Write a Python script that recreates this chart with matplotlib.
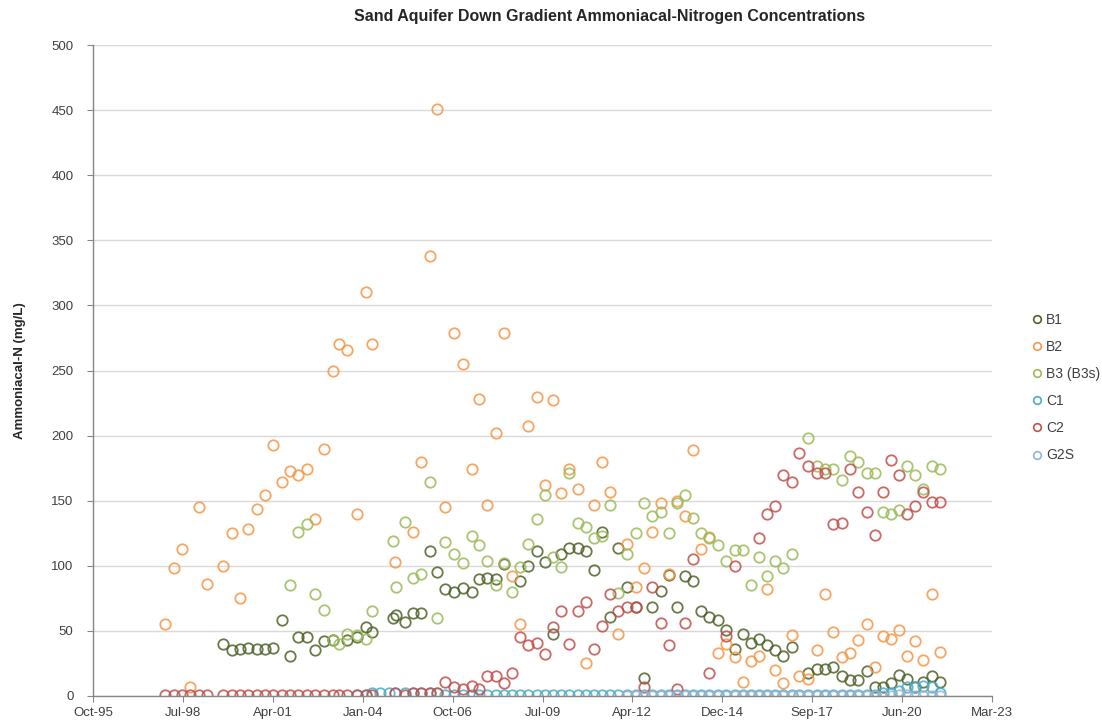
import matplotlib
matplotlib.use("Agg")
import matplotlib.pyplot as plt
import matplotlib.dates as mdates
from datetime import datetime, timedelta

plt.rcParams['font.family'] = ['Liberation Sans', 'DejaVu Sans']

# ---------------- data (decimal years, mg/L) ----------------
b1_dates = [1999.78, 2000.04, 2000.30, 2000.54, 2000.81, 2001.06, 2001.30, 2001.58, 2001.82, 2002.06,
            2002.34, 2002.58, 2002.87, 2003.13, 2003.55, 2003.87, 2004.13, 2004.32, 2004.95, 2005.05,
            2005.31, 2005.56, 2005.82, 2006.07, 2006.30, 2006.55, 2006.82, 2007.09, 2007.35, 2007.59,
            2007.83, 2008.09, 2008.34, 2008.82, 2009.07, 2009.34, 2009.58, 2009.83, 2010.07, 2010.31,
            2010.59, 2010.83, 2011.08, 2011.32, 2011.56, 2011.82, 2012.08, 2012.35, 2012.60, 2012.86,
            2013.12, 2013.36, 2013.60, 2013.85, 2014.09, 2014.35, 2014.59, 2014.85, 2015.11, 2015.38,
            2015.63, 2015.86, 2016.10, 2016.34, 2016.60, 2016.85, 2017.10, 2017.59, 2017.87, 2018.12,
            2018.37, 2018.63, 2018.87, 2019.11, 2019.39, 2019.63, 2019.88, 2020.12, 2020.36, 2020.61,
            2020.87, 2021.11, 2021.37, 2021.63]
b1_vals = [40, 35, 36, 37, 36, 36, 37, 58, 31, 45,
           45, 35, 42, 43, 43, 45, 53, 49, 60, 62,
           57, 64, 64, 111, 95, 82, 80, 83, 80, 90,
           91, 90, 101, 88, 100, 111, 103, 48, 109, 114,
           114, 111, 97, 126, 61, 114, 84, 68, 14, 68,
           81, 93, 68, 92, 88, 65, 61, 58, 51, 36,
           48, 41, 44, 39, 35, 31, 38, 18, 21, 21,
           22, 15, 12, 12, 19, 7, 7, 10, 16, 13,
           7, 11, 15, 11]

b2_dates = [1998.01, 1998.29, 1998.54, 1998.78, 1999.05, 1999.29, 1999.78, 2000.04, 2000.30, 2000.54,
            2000.81, 2001.06, 2001.30, 2001.58, 2001.82, 2002.06, 2002.34, 2002.58, 2002.87, 2003.13,
            2003.31, 2003.55, 2003.87, 2004.13, 2004.32, 2005.02, 2005.56, 2005.82, 2006.07, 2006.30,
            2006.55, 2006.82, 2007.09, 2007.35, 2007.59, 2007.83, 2008.09, 2008.34, 2008.58, 2008.82,
            2009.07, 2009.34, 2009.58, 2009.83, 2010.07, 2010.31, 2010.59, 2010.83, 2011.08, 2011.32,
            2011.56, 2011.82, 2012.08, 2012.35, 2012.60, 2012.86, 2013.12, 2013.36, 2013.60, 2013.85,
            2014.09, 2014.35, 2014.59, 2014.85, 2015.11, 2015.38, 2015.63, 2015.86, 2016.10, 2016.34,
            2016.60, 2016.85, 2017.10, 2017.33, 2017.59, 2017.87, 2018.12, 2018.37, 2018.63, 2018.87,
            2019.11, 2019.39, 2019.63, 2019.88, 2020.12, 2020.36, 2020.61, 2020.87, 2021.11, 2021.37,
            2021.63]
b2_vals = [55, 98, 113, 7, 145, 86, 100, 125, 75, 128,
           144, 154, 193, 164, 173, 170, 174, 136, 190, 250,
           270, 266, 140, 310, 270, 103, 126, 180, 338, 451,
           145, 279, 255, 174, 228, 147, 202, 279, 92, 55,
           207, 230, 162, 227, 156, 174, 159, 25, 147, 180,
           157, 48, 117, 84, 98, 126, 148, 94, 150, 138,
           189, 113, 122, 33, 40, 30, 11, 27, 31, 82,
           20, 10, 47, 15, 13, 35, 78, 49, 30, 33,
           43, 55, 22, 46, 44, 51, 31, 42, 28, 78,
           34]

b3_dates = [2001.82, 2002.06, 2002.34, 2002.58, 2002.87, 2003.13, 2003.31, 2003.55, 2003.87, 2004.13,
            2004.32, 2004.95, 2005.05, 2005.31, 2005.56, 2005.82, 2006.07, 2006.30, 2006.55, 2006.82,
            2007.09, 2007.35, 2007.59, 2007.83, 2008.09, 2008.34, 2008.58, 2008.82, 2009.07, 2009.34,
            2009.58, 2009.83, 2010.07, 2010.31, 2010.59, 2010.83, 2011.08, 2011.32, 2011.56, 2011.82,
            2012.08, 2012.35, 2012.60, 2012.86, 2013.12, 2013.36, 2013.60, 2013.85, 2014.09, 2014.35,
            2014.59, 2014.85, 2015.11, 2015.38, 2015.63, 2015.86, 2016.10, 2016.34, 2016.60, 2016.85,
            2017.10, 2017.59, 2017.87, 2018.12, 2018.37, 2018.63, 2018.87, 2019.11, 2019.39, 2019.63,
            2019.88, 2020.12, 2020.36, 2020.61, 2020.87, 2021.11, 2021.37, 2021.63]
b3_vals = [85, 126, 132, 78, 66, 43, 40, 48, 47, 44,
           65, 119, 84, 134, 91, 94, 164, 60, 118, 109,
           102, 123, 116, 104, 85, 102, 80, 99, 117, 136,
           154, 107, 99, 171, 133, 130, 121, 123, 147, 79,
           109, 125, 148, 138, 141, 125, 148, 154, 137, 125,
           121, 116, 104, 112, 112, 85, 107, 92, 104, 98,
           109, 198, 177, 174, 174, 166, 184, 180, 171, 171,
           141, 140, 143, 177, 170, 159, 177, 174]

c1_dates = [2003.87, 2004.13, 2004.32, 2004.57, 2004.83, 2005.02, 2005.31, 2005.56, 2005.82, 2006.07,
            2006.30, 2006.55, 2006.82, 2007.09, 2007.35, 2007.59, 2007.83, 2008.09, 2008.34, 2008.58,
            2008.82, 2009.07, 2009.34, 2009.58, 2009.83, 2010.07, 2010.31, 2010.59, 2010.83, 2011.08,
            2011.32, 2011.56, 2011.82, 2012.08, 2012.35, 2012.60, 2012.86, 2013.12, 2013.36, 2013.60,
            2013.85, 2014.09, 2014.35, 2014.59, 2014.85, 2015.11, 2015.38, 2015.63, 2015.86, 2016.10,
            2016.34, 2016.60, 2016.85, 2017.10, 2017.33, 2017.59, 2017.87, 2018.12, 2018.37, 2018.63,
            2018.87, 2019.11, 2019.39, 2019.63, 2019.88, 2020.12, 2020.36, 2020.61, 2020.87, 2021.11,
            2021.37, 2021.63]
c1_vals = [1, 1, 2, 2, 2, 2, 2, 2, 2, 2,
           2, 1, 1, 1, 1, 1, 1, 1, 1, 1,
           1, 1, 1, 1, 1, 1, 1, 1, 1, 1,
           1, 1, 1, 1, 1, 1, 1, 1, 1, 1,
           1, 1, 1, 1, 1, 1, 1, 1, 1, 1,
           1, 1, 1, 1, 1, 1, 1, 1, 1, 1,
           1, 1, 1, 1, 2, 2, 4, 7, 7, 8,
           7, 2]

c2_dates = [1998.01, 1998.29, 1998.54, 1998.78, 1999.05, 1999.29, 1999.78, 2000.04, 2000.30, 2000.54,
            2000.81, 2001.06, 2001.30, 2001.58, 2001.82, 2002.06, 2002.34, 2002.58, 2002.87, 2003.13,
            2003.31, 2003.55, 2003.87, 2004.13, 2004.32, 2005.02, 2005.31, 2005.56, 2005.82, 2006.07,
            2006.30, 2006.55, 2006.82, 2007.09, 2007.35, 2007.59, 2007.83, 2008.09, 2008.34, 2008.58,
            2008.82, 2009.07, 2009.34, 2009.58, 2009.83, 2010.07, 2010.31, 2010.59, 2010.83, 2011.08,
            2011.32, 2011.56, 2011.82, 2012.08, 2012.35, 2012.60, 2012.86, 2013.12, 2013.36, 2013.60,
            2013.85, 2014.09, 2014.59, 2015.11, 2015.38, 2016.10, 2016.34, 2016.60, 2016.85, 2017.10,
            2017.33, 2017.59, 2017.87, 2018.12, 2018.37, 2018.63, 2018.87, 2019.11, 2019.39, 2019.63,
            2019.88, 2020.12, 2020.36, 2020.61, 2020.87, 2021.11, 2021.37, 2021.63]
c2_vals = [0.5, 0.5, 0.5, 0.5, 0.5, 0.5, 0.5, 0.5, 0.5, 0.5,
           0.5, 0.5, 0.5, 0.5, 0.5, 0.5, 0.5, 0.5, 0.5, 0.5,
           0.5, 0.5, 0.5, 0.5, 0.5, 2, 1, 2, 2, 2,
           2, 11, 7, 5, 8, 5, 15, 15, 10, 18,
           45, 39, 41, 32, 53, 65, 40, 65, 72, 36,
           54, 78, 65, 68, 68, 7, 84, 56, 39, 5,
           56, 105, 18, 46, 100, 121, 140, 146, 170, 164,
           187, 177, 171, 171, 132, 133, 174, 157, 141, 124,
           157, 181, 170, 140, 146, 157, 149, 149]

g2s_dates = [2012.08, 2012.35, 2012.60, 2012.86, 2013.12, 2013.36, 2013.60, 2013.85, 2014.09, 2014.35,
             2014.59, 2014.85, 2015.11, 2015.38, 2015.63, 2015.86, 2016.10, 2016.34, 2016.60, 2016.85,
             2017.10, 2017.33, 2017.59, 2017.87, 2018.12, 2018.37, 2018.63, 2018.87, 2019.11, 2019.39,
             2019.63, 2019.88, 2020.12, 2020.36, 2020.61, 2020.87, 2021.11, 2021.37, 2021.63]
g2s_vals = [0.3, 0.3, 0.3, 0.3, 0.3, 0.3, 0.3, 0.3, 0.3, 0.3,
            0.3, 0.3, 0.3, 0.3, 0.3, 0.3, 0.3, 0.3, 0.3, 0.3,
            0.3, 0.3, 0.3, 0.3, 0.3, 0.3, 0.3, 0.3, 0.3, 0.3,
            0.3, 0.3, 0.3, 0.5, 0.5, 0.3, 0.3, 0.3, 0.3]

series_names = ['B1', 'B2', 'B3 (B3s)', 'C1', 'C2', 'G2S']
series_colors = ['#4f6228', '#f79646', '#9bbb59', '#4bacc6', '#c0504d', '#95b3d7']
series_data = [(b1_dates, b1_vals), (b2_dates, b2_vals), (b3_dates, b3_vals),
               (c1_dates, c1_vals), (c2_dates, c2_vals), (g2s_dates, g2s_vals)]

excel_epoch = datetime(1899, 12, 30)
x_tick_serials = list(range(35000, 45001, 1000))
y_ticks = list(range(0, 501, 50))


def yr2date(y):
    yr = int(y)
    return datetime(yr, 1, 1) + timedelta(days=(y - yr) * 365.25)


# ---------------- figure ----------------
fig = plt.figure(figsize=(11.02, 7.27), dpi=100)
ax = fig.add_axes([93 / 1102, 31 / 727, 899 / 1102, 651 / 727])

handles = []
for name, color, (d, v) in zip(series_names, series_colors, series_data):
    h, = ax.plot([yr2date(x) for x in d], v, linestyle='none', marker='o',
                 markersize=7.5, markerfacecolor='none', markeredgecolor=color,
                 markeredgewidth=1.3, label=name, alpha=0.85)
    handles.append(h)

ax.set_xlim(excel_epoch + timedelta(days=35000), excel_epoch + timedelta(days=45000))
ax.set_ylim(0, 500)
ax.set_xticks([excel_epoch + timedelta(days=s) for s in x_tick_serials])
ax.xaxis.set_major_formatter(mdates.DateFormatter('%b-%y'))
ax.set_yticks(y_ticks)

ax.grid(axis='y', color='#d9d9d9', linewidth=1.0)
ax.set_axisbelow(True)
for s in ['top', 'right']:
    ax.spines[s].set_visible(False)
for s in ['left', 'bottom']:
    ax.spines[s].set_color('#868686')
    ax.spines[s].set_linewidth(1.0)

ax.tick_params(axis='both', colors='#868686', labelcolor='#404040', labelsize=9.5,
               length=4, direction='out')
ax.tick_params(axis='y', pad=10)
ax.tick_params(axis='x', pad=4)

ax.set_ylabel('Ammoniacal-N (mg/L)', fontsize=9.5, fontweight='bold', color='#262626',
              labelpad=18)

fig.text(610 / 1102, 1 - 17 / 727, 'Sand Aquifer Down Gradient Ammoniacal-Nitrogen Concentrations',
         ha='center', va='center', fontsize=11.5, fontweight='bold', color='#262626')

leg_handles = []
for name, color in zip(series_names, series_colors):
    lh, = ax.plot([], [], linestyle='none', marker='o', markersize=5.5, markerfacecolor='none',
                  markeredgecolor=color, markeredgewidth=1.2, label=name)
    leg_handles.append(lh)
fig.legend(handles=leg_handles, labels=series_names, loc='upper left',
           bbox_to_anchor=(1018 / 1102, 1 - 300 / 727), frameon=False, fontsize=10,
           handletextpad=0.1, handlelength=1.0, labelspacing=0.95,
           labelcolor='#404040')

fig.savefig('out.png', dpi=100)
